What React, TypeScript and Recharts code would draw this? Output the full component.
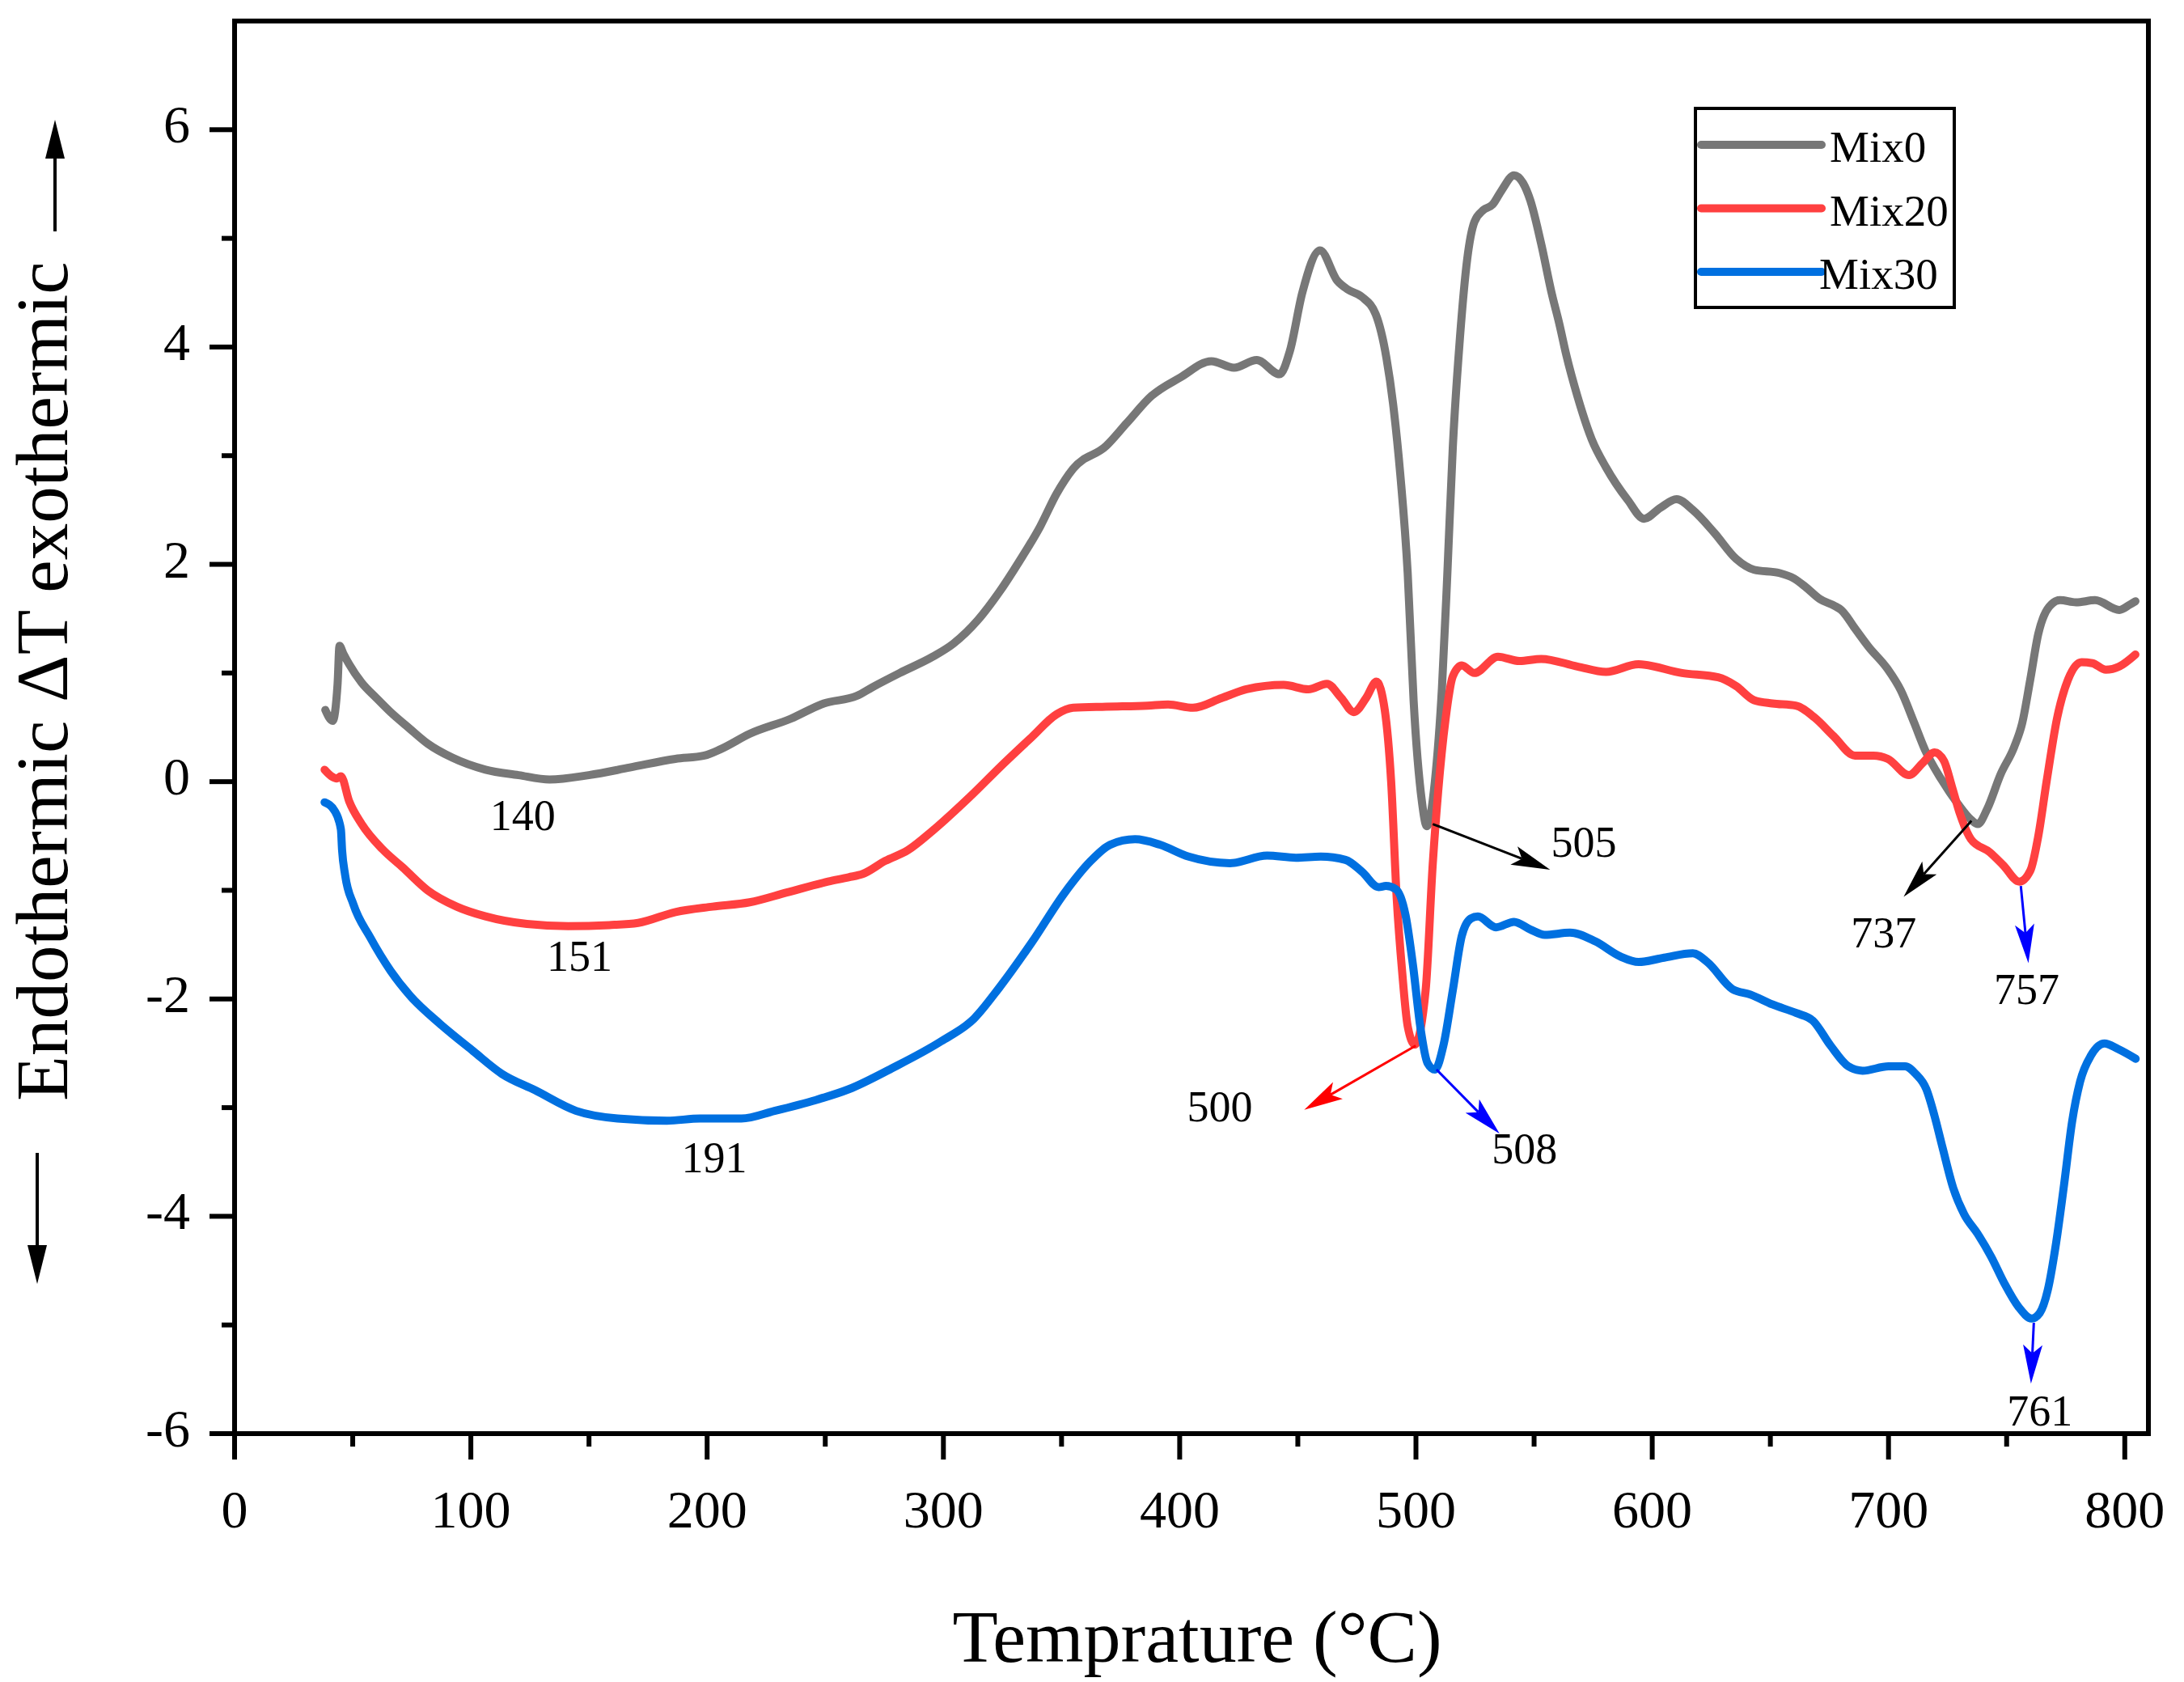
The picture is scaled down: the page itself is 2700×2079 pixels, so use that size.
import React from "react"
import { LineChart, Line, XAxis, YAxis, Legend, ReferenceLine, ReferenceDot } from "recharts"

// DTA curves as [temperature °C, ΔT]
const mix0: [number, number][] = [
  [38.4, 0.66], [41.5, 0.56], [43.6, 0.9], [44.4, 1.25], [46, 1.18], [48.5, 1.08], [53.8, 0.91], [60, 0.77],
  [66, 0.64], [74, 0.49], [81.7, 0.35], [92.2, 0.22], [106.2, 0.11], [120.2, 0.06], [133.3, 0.02],
  [149.9, 0.06], [167.3, 0.13], [186.6, 0.21], [198.8, 0.24], [205.8, 0.3], [218, 0.44], [235.5, 0.58],
  [249.4, 0.72], [263.4, 0.79], [270, 0.87], [281.5, 1.0], [295.5, 1.15], [304.2, 1.27], [314.7, 1.49],
  [323.5, 1.74], [332.2, 2.03], [341, 2.35], [347.9, 2.65], [354.9, 2.88], [368.9, 3.09], [377.6, 3.3],
  [388.1, 3.55], [400.3, 3.72], [413.4, 3.87], [423, 3.81], [432.6, 3.88], [442.3, 3.75], [446.6, 3.96],
  [451.9, 4.5], [459.4, 4.89], [466.7, 4.61], [471.1, 4.53], [477.2, 4.46], [483, 4.3], [487.5, 3.9],
  [490.3, 3.48], [493.4, 2.82], [496.5, 1.92], [499, 0.75], [502.5, -0.18], [504.6, -0.41], [508, 0.0],
  [511, 0.86], [513.3, 1.92], [515.6, 3.08], [518.6, 4.08], [521.7, 4.81], [524.7, 5.15], [528.5, 5.26],
  [532.4, 5.31], [536.2, 5.44], [541.5, 5.58], [545.3, 5.51], [548.4, 5.35], [553, 4.95], [557.6, 4.48],
  [560.6, 4.22], [563.7, 3.92], [568.3, 3.55], [574.4, 3.15], [580.5, 2.89], [589.7, 2.59], [596.5, 2.42],
  [603.4, 2.52], [610.3, 2.6], [617.2, 2.5], [626.3, 2.29], [635.5, 2.05], [643.1, 1.95], [653.8, 1.92],
  [660, 1.87], [665, 1.79], [671, 1.68], [677, 1.62], [680, 1.58], [685.8, 1.41], [691.6, 1.24],
  [699.5, 1.04], [705.2, 0.84], [710.9, 0.54], [715.5, 0.29], [722.4, 0.02], [729.2, -0.2], [734.9, -0.35],
  [737.8, -0.39], [741.8, -0.25], [747.5, 0.07], [753.2, 0.32], [756.6, 0.54], [760, 0.94], [763.4, 1.36],
  [768, 1.61], [772.6, 1.67], [779.4, 1.65], [787.4, 1.67], [797.7, 1.58], [802.2, 1.63], [804.5, 1.66],
]

const mix20: [number, number][] = [
  [38.1, 0.11], [41, 0.05], [43.3, 0.03], [45, 0.05], [48.5, -0.18], [53.8, -0.39], [62.5, -0.62],
  [71.2, -0.79], [81.7, -1.0], [94, -1.15], [106.2, -1.24], [123.7, -1.31], [141.1, -1.33], [158.6, -1.32],
  [170.8, -1.3], [186.6, -1.2], [202.3, -1.15], [218, -1.11], [233.7, -1.02], [251.2, -0.92], [259.9, -0.88],
  [265.8, -0.85], [275.3, -0.73], [285, -0.63], [295.5, -0.45], [311.2, -0.14], [325.2, 0.16], [337.4, 0.41],
  [347.9, 0.62], [354.9, 0.68], [368.9, 0.69], [386.4, 0.7], [395.1, 0.71], [405.6, 0.68], [417.8, 0.77],
  [428.3, 0.85], [444, 0.89], [454.5, 0.85], [462.3, 0.9], [468.4, 0.77], [473.7, 0.64], [478.9, 0.77],
  [483.3, 0.92], [486.8, 0.66], [489.5, 0.0], [491.9, -1.09], [494.2, -1.76], [496.5, -2.25], [499.5, -2.42],
  [504.1, -1.92], [507.1, -0.76], [509.4, -0.09], [512.5, 0.57], [515.6, 0.97], [519.4, 1.07], [524.7, 1.0],
  [534.7, 1.15], [543.8, 1.11], [553, 1.13], [568.3, 1.06], [580.5, 1.01], [594.2, 1.08], [612.6, 1.0],
  [627.9, 0.96], [635.5, 0.88], [643.1, 0.75], [650.8, 0.72], [660.7, 0.7], [668.7, 0.59], [676.7, 0.42],
  [685.8, 0.24], [693.6, 0.24], [699.7, 0.21], [708.7, 0.06], [714.4, 0.17], [719.5, 0.27], [723.5, 0.19],
  [726.9, -0.05], [730.3, -0.3], [734.9, -0.53], [742.9, -0.65], [748.6, -0.77], [755.4, -0.92], [760, -0.82],
  [763.4, -0.5], [766.9, 0.0], [771.4, 0.59], [776, 0.94], [781.7, 1.1], [786.3, 1.09], [792, 1.03],
  [797.7, 1.06], [804.5, 1.17],
]

const mix30: [number, number][] = [
  [38.1, -0.19], [42.4, -0.27], [45, -0.44], [45.5, -0.63], [46.8, -0.86], [50.3, -1.13], [57.3, -1.43],
  [66, -1.74], [74.7, -1.98], [87, -2.23], [101, -2.48], [113.2, -2.69], [127.2, -2.84], [144.6, -3.03],
  [162.1, -3.1], [183, -3.12], [197, -3.1], [214.5, -3.1], [228.5, -3.03], [246, -2.93], [260, -2.83],
  [278, -2.64], [299, -2.39], [313, -2.18], [323.5, -1.9], [337.4, -1.48], [351.4, -1.02], [361.9, -0.74],
  [370.6, -0.58], [381.1, -0.53], [391.6, -0.58], [403.8, -0.69], [421.3, -0.75], [437, -0.68], [449.2, -0.7],
  [459.7, -0.69], [470.2, -0.72], [477.2, -0.83], [484.2, -0.97], [487.3, -0.96], [491.5, -0.99],
  [495.6, -1.23], [498.8, -1.7], [501.8, -2.25], [504.9, -2.59], [508, -2.65], [511.7, -2.42], [515.6, -1.92],
  [519.4, -1.42], [523.2, -1.26], [526.2, -1.24], [533.9, -1.34], [541.5, -1.29], [548.4, -1.36],
  [554.5, -1.41], [565.2, -1.39], [575.9, -1.47], [586.6, -1.61], [594.2, -1.66], [605, -1.62], [617.2, -1.58],
  [623.3, -1.66], [634, -1.91], [641.6, -1.96], [650.8, -2.05], [661, -2.13], [668, -2.2], [675.5, -2.43],
  [683, -2.62], [689, -2.66], [700, -2.62], [707, -2.62], [711.5, -2.69], [716, -2.83], [719.4, -3.07],
  [722.9, -3.37], [727.4, -3.74], [732, -3.98], [737.7, -4.16], [743.4, -4.37], [749.1, -4.62], [754.9, -4.83],
  [760.6, -4.94], [764, -4.89], [767.4, -4.68], [770.9, -4.25], [774.3, -3.71], [777.7, -3.13], [781.1, -2.76],
  [785.7, -2.52], [791.4, -2.41], [797.1, -2.46], [804.6, -2.55],
]

const seriesNames = ["Mix0", "Mix20", "Mix30"]
const seriesColors = ["#777777", "#ff4040", "#0070e0"]

const xDomain = [0, 810]
const yDomain = [-6, 7]
const xTicks = [0, 50, 100, 150, 200, 250, 300, 350, 400, 450, 500, 550, 600, 650, 700, 750, 800]
const yTicks = [-6, -5, -4, -3, -2, -1, 0, 1, 2, 3, 4, 5, 6]

// peak temperatures written on the plot, and where they sit
const peakLabels = [
  { text: "140", t: 122, v: -0.31 },
  { text: "151", t: 146, v: -1.61 },
  { text: "191", t: 203, v: -3.46 },
  { text: "500", t: 417, v: -2.99 },
  { text: "505", t: 571, v: -0.56 },
  { text: "508", t: 546, v: -3.38 },
  { text: "737", t: 698, v: -1.39 },
  { text: "757", t: 758.5, v: -1.91 },
  { text: "761", t: 764, v: -5.79 },
]

// arrows pointing from each peak to its label
const peakArrows = [
  { from: [507.1, -0.39], to: [556.8, -0.81], color: "#000000" },
  { from: [499.9, -2.43], to: [452.7, -3.02], color: "#ff0000" },
  { from: [508.7, -2.65], to: [535.4, -3.24], color: "#0000ff" },
  { from: [735.1, -0.36], to: [706.4, -1.06], color: "#000000" },
  { from: [756, -0.96], to: [759.2, -1.67], color: "#0000ff" },
  { from: [761.5, -4.98], to: [760.3, -5.54], color: "#0000ff" },
]

const FONT = "'Liberation Serif', 'DejaVu Serif', serif"

const toPoints = (pairs: [number, number][]) => pairs.map(([t, v]) => ({ t, v }))

const arrowShape = (color: string) => (props: any) => {
  const { x1, y1, x2, y2 } = props
  const dx = x2 - x1
  const dy = y2 - y1
  const len = Math.hypot(dx, dy) || 1
  const ux = dx / len
  const uy = dy / len
  const head = 48
  const half = 12
  const bx = x2 - ux * head
  const by = y2 - uy * head
  const nx = x2 - ux * head * 0.78
  const ny = y2 - uy * head * 0.78
  return (
    <g>
      <line x1={x1} y1={y1} x2={nx} y2={ny} stroke={color} strokeWidth={3} />
      <polygon
        points={`${x2},${y2} ${bx - uy * half},${by + ux * half} ${nx},${ny} ${bx + uy * half},${by - ux * half}`}
        fill={color}
      />
    </g>
  )
}

const YTick = (props: any) => {
  const { x, y, payload } = props
  const major = payload.value % 2 === 0
  return (
    <g>
      <line x1={x} x2={x - (major ? 31 : 16)} y1={y} y2={y} stroke="#000" strokeWidth={6} />
      {major && (
        <text x={x - 55} y={y + 16} textAnchor="end" fontFamily={FONT} fontSize={66} fill="#000">
          {payload.value}
        </text>
      )}
    </g>
  )
}

const XTick = (props: any) => {
  const { x, y, payload } = props
  const major = payload.value % 100 === 0
  return (
    <g>
      <line x1={x} x2={x} y1={y} y2={y + (major ? 32 : 16)} stroke="#000" strokeWidth={6} />
      {major && (
        <text x={x} y={y + 116} textAnchor="middle" fontFamily={FONT} fontSize={66} fill="#000">
          {payload.value}
        </text>
      )}
    </g>
  )
}

const XTitle = (props: any) => {
  const vb = props.viewBox || { x: 290, y: 1772, width: 2366, height: 307 }
  return (
    <text x={vb.x + vb.width / 2 + 7} y={vb.y + 282} textAnchor="middle" fontFamily={FONT} fontSize={92} fill="#000">
      Temprature (°C)
    </text>
  )
}

const YTitle = (props: any) => {
  const vb = props.viewBox || { x: 0, y: 26, width: 290, height: 1746 }
  const cx = vb.x + 83
  const cy = vb.y + 816
  return (
    <g>
      <text
        x={cx}
        y={cy}
        transform={`rotate(-90, ${cx}, ${cy})`}
        textAnchor="middle"
        fontFamily={FONT}
        fontSize={91}
        fill="#000"
      >
        Endothermic ΔT exothermic
      </text>
      {/* up arrow (exothermic) */}
      <line x1={vb.x + 68} x2={vb.x + 68} y1={vb.y + 260} y2={vb.y + 165} stroke="#000" strokeWidth={4} />
      <polygon
        points={`${vb.x + 68},${vb.y + 122} ${vb.x + 56},${vb.y + 170} ${vb.x + 80},${vb.y + 170}`}
        fill="#000"
      />
      {/* down arrow (endothermic) */}
      <line x1={vb.x + 46} x2={vb.x + 46} y1={vb.y + 1399} y2={vb.y + 1520} stroke="#000" strokeWidth={4} />
      <polygon
        points={`${vb.x + 46},${vb.y + 1561} ${vb.x + 34},${vb.y + 1513} ${vb.x + 58},${vb.y + 1513}`}
        fill="#000"
      />
    </g>
  )
}

const LegendBox = (props: any) => {
  const payload = props.payload || []
  return (
    <svg width={324} height={250} style={{ display: "block" }}>
      <rect x={2} y={2} width={320} height={246} fill="#fff" stroke="#000" strokeWidth={4} />
      {payload.map((entry: any, i: number) => (
        <g key={entry.value}>
          <line
            x1={9}
            x2={158}
            y1={47 + i * 78.5}
            y2={47 + i * 78.5}
            stroke={entry.color}
            strokeWidth={10}
            strokeLinecap="round"
          />
          <text x={i === 2 ? 155 : 168} y={68 + i * 78.5} fontFamily={FONT} fontSize={55} fill="#000">
            {entry.value}
          </text>
        </g>
      ))}
    </svg>
  )
}

const PeakLabel = (text: string) => (props: any) => (
  <text
    x={props.cx}
    y={props.cy}
    textAnchor="middle"
    dominantBaseline="central"
    fontFamily={FONT}
    fontSize={54}
    fill="#000"
  >
    {text}
  </text>
)

const series = [mix0, mix20, mix30]

export default function App() {
  return (
    <div style={{ position: "absolute", left: 0, top: 0, width: 2700, height: 2079, background: "#fff" }}>
      <LineChart width={2700} height={2079} margin={{ top: 26, right: 44, bottom: 0, left: 0 }}>
        <XAxis
          dataKey="t"
          type="number"
          domain={xDomain}
          ticks={xTicks}
          interval={0}
          height={307}
          tickSize={0}
          tickMargin={0}
          tickLine={false}
          tick={<XTick />}
          axisLine={{ stroke: "#000", strokeWidth: 6 }}
          allowDataOverflow
          label={<XTitle />}
        />
        <YAxis
          type="number"
          domain={yDomain}
          ticks={yTicks}
          interval={0}
          width={290}
          tickSize={0}
          tickMargin={0}
          tickLine={false}
          tick={<YTick />}
          axisLine={{ stroke: "#000", strokeWidth: 6 }}
          allowDataOverflow
          label={<YTitle />}
        />
        {/* top and right sides of the frame */}
        <ReferenceLine y={yDomain[1]} stroke="#000" strokeWidth={6} strokeLinecap="square" ifOverflow="visible" />
        <ReferenceLine x={xDomain[1]} stroke="#000" strokeWidth={6} strokeLinecap="square" ifOverflow="visible" />
        <Legend
          layout="vertical"
          align="center"
          verticalAlign="middle"
          content={<LegendBox />}
          wrapperStyle={{ left: 2094, top: 132, width: 324, height: 250 }}
        />
        {series.map((pairs, i) => (
          <Line
            key={seriesNames[i]}
            name={seriesNames[i]}
            data={toPoints(pairs)}
            dataKey="v"
            type="monotone"
            stroke={seriesColors[i]}
            strokeWidth={10}
            strokeLinecap="round"
            strokeLinejoin="round"
            dot={false}
            activeDot={false}
            isAnimationActive={false}
          />
        ))}
        {peakArrows.map((a, i) => (
          <ReferenceLine
            key={"arrow" + i}
            segment={[
              { x: a.from[0], y: a.from[1] },
              { x: a.to[0], y: a.to[1] },
            ]}
            shape={arrowShape(a.color)}
            ifOverflow="visible"
          />
        ))}
        {peakLabels.map((p) => (
          <ReferenceDot key={p.text} x={p.t} y={p.v} r={0} shape={PeakLabel(p.text)} ifOverflow="visible" />
        ))}
      </LineChart>
    </div>
  )
}
